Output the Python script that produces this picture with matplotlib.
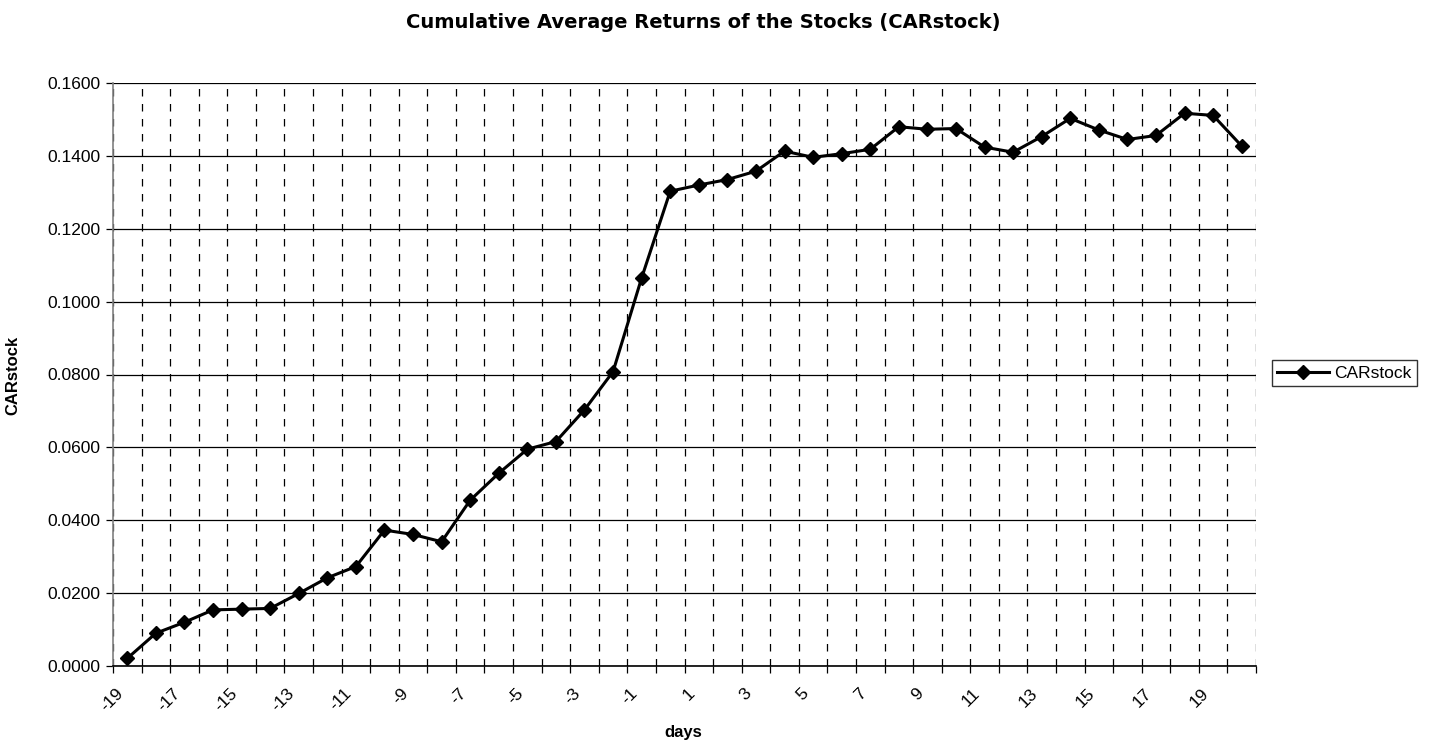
import numpy as np
import matplotlib.pyplot as plt
import matplotlib.transforms as mtransforms
from matplotlib.ticker import MultipleLocator, FixedLocator

plt.rcParams['font.family'] = ['Liberation Sans', 'DejaVu Sans']

# Dữ liệu
days = list(range(-19, 21))
car_stock = [0.0021, 0.0090, 0.0120, 0.0154, 0.0156, 0.0158, 0.0199, 0.0242,
             0.0273, 0.0373, 0.0361, 0.0341, 0.0455, 0.0529, 0.0595, 0.0616,
             0.0703, 0.0808, 0.1065, 0.1303, 0.1320, 0.1335, 0.1358, 0.1413,
             0.1396, 0.1406, 0.1418, 0.1480, 0.1473, 0.1475, 0.1424, 0.1410,
             0.1453, 0.1503, 0.1471, 0.1445, 0.1456, 0.1517, 0.1511, 0.1427]
tick_days = list(range(-19, 20, 2))

fig = plt.figure(figsize=(14.38, 7.44), dpi=100)
ax = fig.add_axes([113 / 1438, 1 - 666 / 744, (1256 - 113) / 1438, (666 - 83) / 744])

pos = np.arange(len(days))
ax.plot(pos, car_stock, color='black', linewidth=2.2, marker='D', markersize=7,
        label='CARstock')

ax.set_xlim(-0.5, len(days) - 0.5)
ax.set_ylim(0, 0.16)

# trục y
ax.yaxis.set_major_locator(MultipleLocator(0.02))
ax.yaxis.set_major_formatter(lambda v, p: f'{v:.4f}')
ax.grid(axis='y', color='black', linewidth=0.9)
ax.tick_params(axis='y', length=5, width=0.9, labelsize=12.5, pad=4)

# trục x: nhãn ở giữa danh mục, vạch ở ranh giới
label_pos = [days.index(d) for d in tick_days]
ax.xaxis.set_major_locator(FixedLocator(label_pos))
ax.set_xticklabels([str(d) for d in tick_days], rotation=45, ha='right',
                   rotation_mode='anchor', fontsize=12.5)
ax.tick_params(axis='x', which='major', length=0, pad=14)
offset = mtransforms.ScaledTranslation(-0.12, 0, fig.dpi_scale_trans)
for lbl in ax.get_xticklabels():
    lbl.set_transform(lbl.get_transform() + offset)
ax.xaxis.set_minor_locator(FixedLocator(np.arange(len(days) + 1) - 0.5))
ax.tick_params(axis='x', which='minor', length=5, width=0.9, direction='out')
ax.grid(axis='x', which='minor', color='black', linestyle=(0, (6, 6)), linewidth=0.9)
ax.set_axisbelow(True)

for s in ['top', 'right']:
    ax.spines[s].set_visible(False)
ax.spines['left'].set_color('#808080')
ax.spines['left'].set_linewidth(1.2)
ax.spines['bottom'].set_linewidth(1.2)

fig.text(683 / 1438, 1 - 732 / 744, 'days', ha='center', va='center',
         fontsize=12, fontweight='bold')
fig.text(13 / 1438, 1 - 375 / 744, 'CARstock', ha='center', va='center',
         rotation=90, fontsize=12, fontweight='bold')
fig.text(703 / 1438, 1 - 23 / 744, 'Cumulative Average Returns of the Stocks (CARstock)',
         ha='center', va='center', fontsize=14, fontweight='bold', family='DejaVu Sans')

leg = fig.legend(loc='center left', bbox_to_anchor=(1272 / 1438, 1 - 373 / 744),
                 fontsize=12.5, frameon=True, fancybox=False, borderpad=0.3,
                 handlelength=3, handletextpad=0.3, borderaxespad=0)
leg.get_frame().set_edgecolor('black')
leg.get_frame().set_linewidth(1)

fig.savefig('out.png', dpi=100)
